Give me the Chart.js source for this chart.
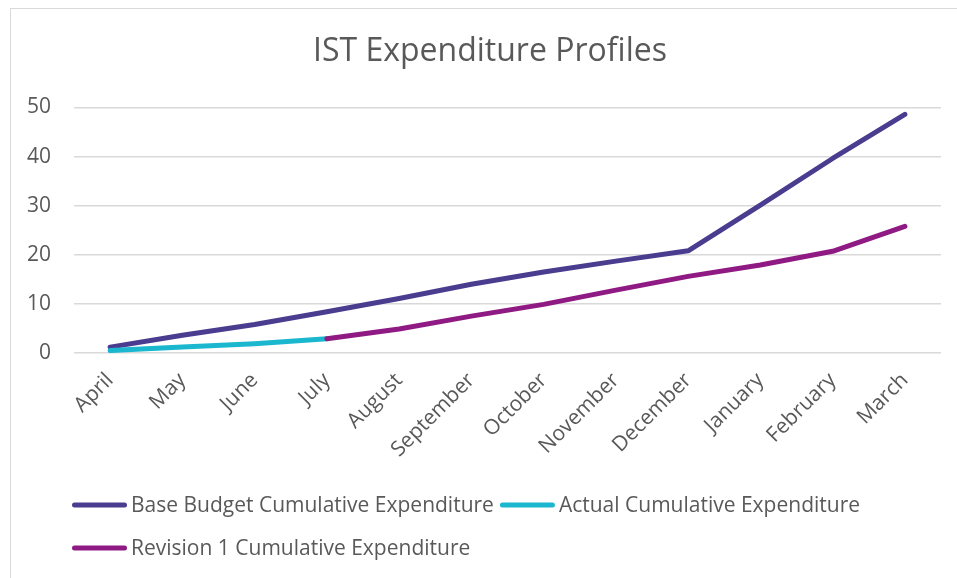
<!DOCTYPE html>
<html lang="en">
<head>
  <meta charset="UTF-8">
  <title>IST Expenditure Profiles</title>
  <script src="https://cdn.jsdelivr.net/npm/chart.js"></script>
  <style>
    body { margin: 0; background: #fff; overflow: hidden; }
    #chart-box {
      position: absolute;
      left: 10px;
      top: 8px;
      width: 960px;
      height: 580px;
      border: 1px solid #d9d9d9;
    }
  </style>
</head>
<body>

<div id="chart-box">
  <canvas id="ist-chart" width="960" height="580"></canvas>
</div>

<script>
  // 月（会計年度）
  const months = ['April', 'May', 'June', 'July', 'August', 'September', 'October',
                  'November', 'December', 'January', 'February', 'March'];

  // 各系列の累計支出
  const baseBudget = [1.2, 3.6, 5.8, 8.4, 11.1, 14.0, 16.5, 18.7, 20.8, 30.1, 39.6, 48.6];
  const actual     = [0.5, 1.2, 1.9, 2.9, null, null, null, null, null, null, null, null];
  const revision1  = [null, null, null, 2.9, 4.9, 7.5, 9.9, 12.8, 15.6, 17.9, 20.7, 25.8];

  const yTicks = [0, 10, 20, 30, 40, 50];

  const textColor = '#595959';
  const fontFamily = '"Open Sans", sans-serif';

  // タイトルを少し右へ寄せる
  const titleShift = {
    id: 'titleShift',
    afterLayout(chart) {
      chart.titleBlock.left += 10;
      chart.titleBlock.right += 10;
    }
  };

  // 凡例を下に描くプラグイン（左寄せで折り返し）
  const bottomLegend = {
    id: 'bottomLegend',
    afterDraw(chart) {
      const ctx = chart.ctx;
      const lineLen = 55, textGap = 4, itemGap = 6, rowGap = 43;
      const left = chart.chartArea.left - 2;
      let x = left;
      let y = 496;
      ctx.save();
      ctx.font = '21px ' + fontFamily;
      ctx.textBaseline = 'middle';
      ctx.lineCap = 'round';
      ctx.lineWidth = 5;
      chart.data.datasets.forEach(ds => {
        const w = lineLen + textGap + ctx.measureText(ds.label).width;
        if (x > left && x + w > chart.width - 10) {
          x = left;
          y += rowGap;
        }
        ctx.strokeStyle = ds.borderColor;
        ctx.beginPath();
        ctx.moveTo(x + 2.5, y);
        ctx.lineTo(x + lineLen - 2.5, y);
        ctx.stroke();
        ctx.fillStyle = textColor;
        ctx.fillText(ds.label, x + lineLen + textGap, y + 1);
        x += w + itemGap;
      });
      ctx.restore();
    }
  };

  const ctx = document.getElementById('ist-chart').getContext('2d');

  new Chart(ctx, {
    type: 'line',
    data: {
      labels: months,
      datasets: [
        {
          label: 'Base Budget Cumulative Expenditure',
          data: baseBudget,
          borderColor: '#4a3c8f',
          order: 3
        },
        {
          label: 'Actual Cumulative Expenditure',
          data: actual,
          borderColor: '#1ab7cf',
          order: 2
        },
        {
          label: 'Revision 1 Cumulative Expenditure',
          data: revision1,
          borderColor: '#8f1a83',
          order: 1
        }
      ]
    },
    options: {
      responsive: false,
      animation: false,
      datasets: {
        line: {
          borderWidth: 5,
          tension: 0,
          pointRadius: 0,
          pointHoverRadius: 0,
          borderCapStyle: 'round',
          borderJoinStyle: 'round',
          spanGaps: false
        }
      },
      layout: {
        padding: { left: 8, right: 30, top: 0, bottom: 106 }
      },
      plugins: {
        legend: { display: false },
        tooltip: { enabled: false },
        title: {
          display: true,
          text: 'IST Expenditure Profiles',
          color: textColor,
          font: { family: fontFamily, size: 32, weight: 'normal' },
          padding: { top: 24, bottom: 36 }
        }
      },
      scales: {
        x: {
          offset: true,
          grid: { display: false },
          border: { display: false },
          ticks: {
            color: textColor,
            font: { family: fontFamily, size: 21 },
            minRotation: 45,
            maxRotation: 45,
            autoSkip: false,
            padding: 7
          },
          afterFit: (scale) => { scale.height = 130; }
        },
        y: {
          min: 0,
          max: 50,
          afterBuildTicks: (scale) => { scale.ticks = yTicks.map(v => ({ value: v })); },
          grid: { color: '#d9d9d9', lineWidth: 1.5, drawTicks: false },
          border: { display: false },
          ticks: {
            color: textColor,
            font: { family: fontFamily, size: 21 },
            padding: 23
          },
          afterFit: (scale) => { scale.width = 55; }
        }
      }
    },
    plugins: [titleShift, bottomLegend]
  });
</script>

</body>
</html>
